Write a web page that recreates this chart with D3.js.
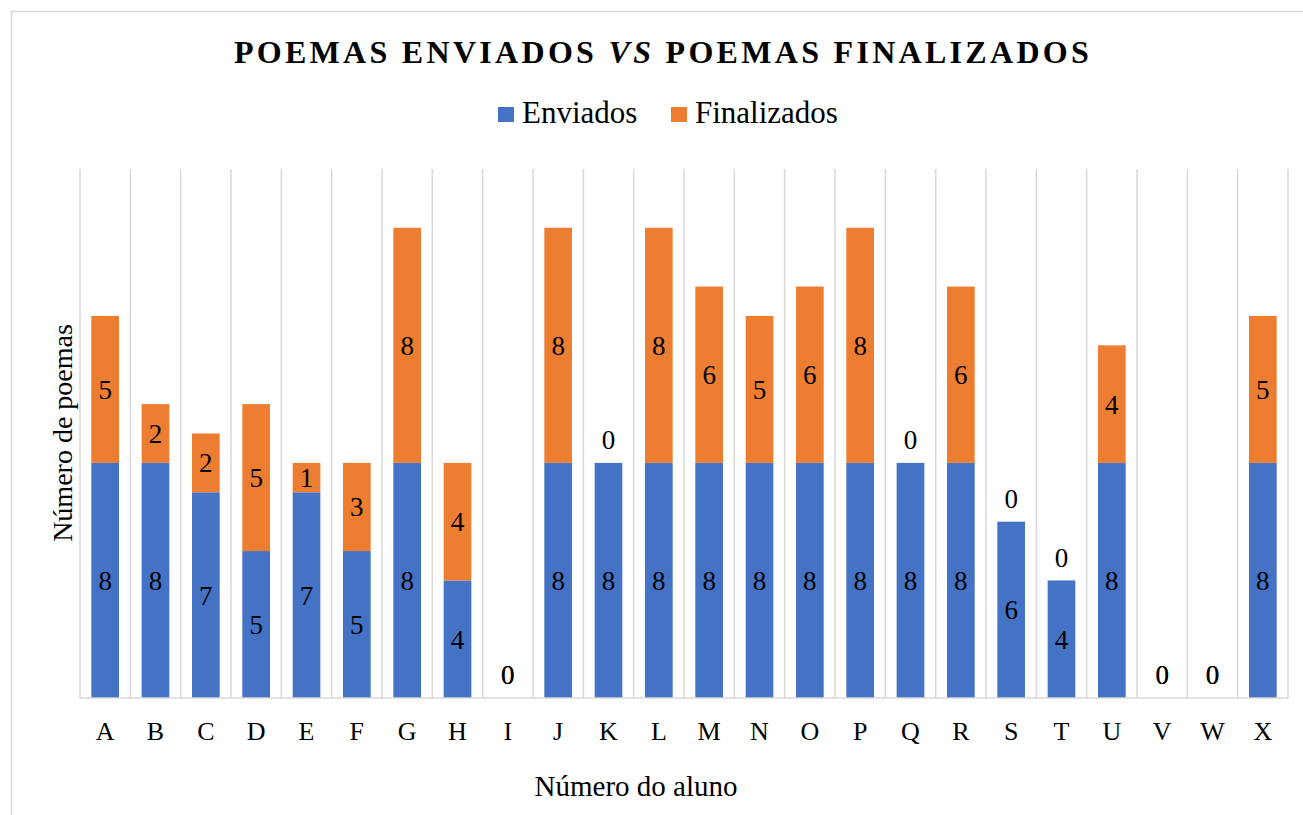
<!DOCTYPE html>
<html>
<head>
<meta charset="utf-8">
<script src="https://cdn.jsdelivr.net/npm/d3@7"></script>
<style>
  html, body { margin: 0; padding: 0; background: #fff; }
  svg { display: block; }
  svg text { font-family: "Liberation Serif", "Times New Roman", serif; }
</style>
</head>
<body>
<svg id="chart" width="1303" height="815"></svg>
<script>
// Alunos and their poem counts
const alunos = ["A","B","C","D","E","F","G","H","I","J","K","L","M","N","O","P","Q","R","S","T","U","V","W","X"];
const enviados =    [8,8,7,5,7,5,8,4,0,8,8,8,8,8,8,8,8,8,6,4,8,0,0,8];
const finalizados = [5,2,2,5,1,3,8,4,0,8,0,8,6,5,6,8,0,6,0,0,4,0,0,5];
const seriesNames = ["Enviados", "Finalizados"];
const seriesColors = ["#4472C4", "#ED7D31"];
const yMax = 18;

const FONT = "Liberation Serif, Times New Roman, serif";
const svg = d3.select("#chart");
const W = 1303, H = 815;
const plot = { left: 80, right: 1288, top: 169, bottom: 698 };

// outer chart frame
svg.append("rect")
  .attr("x", 11.5).attr("y", 11.5)
  .attr("width", W).attr("height", H)
  .attr("fill", "#fff").attr("stroke", "#d9d9d9").attr("stroke-width", 1.5);

const rows = alunos.map((a, i) => ({ aluno: a, Enviados: enviados[i], Finalizados: finalizados[i] }));
const stacked = d3.stack().keys(seriesNames)(rows);

const x = d3.scaleBand()
  .domain(alunos)
  .range([plot.left, plot.right])
  .paddingInner(0.45)
  .paddingOuter(0.225);

const y = d3.scaleLinear().domain([0, yMax]).range([plot.bottom, plot.top]);

// vertical category separators
const step = x.step();
const seps = d3.range(alunos.length + 1).map(i => plot.left + i * step);
svg.append("g").selectAll("line").data(seps).join("line")
  .attr("x1", d => d).attr("x2", d => d)
  .attr("y1", plot.top).attr("y2", plot.bottom)
  .attr("stroke", "#d9d9d9").attr("stroke-width", 1.5);

// stacked bars
const layers = svg.append("g").selectAll("g").data(stacked).join("g")
  .attr("fill", (d, i) => seriesColors[i]);
layers.selectAll("rect").data(d => d).join("rect")
  .attr("x", d => x(d.data.aluno))
  .attr("width", x.bandwidth())
  .attr("y", d => y(d[1]))
  .attr("height", d => y(d[0]) - y(d[1]));

// bottom axis
const xAxis = svg.append("g")
  .attr("transform", `translate(0,${plot.bottom})`)
  .call(d3.axisBottom(x).tickSize(0).tickPadding(24));
xAxis.attr("font-family", FONT).attr("font-size", 26);
xAxis.select(".domain").attr("stroke", "#d9d9d9").attr("stroke-width", 1.5)
  .attr("d", `M${plot.left},0H${plot.right}`);
xAxis.selectAll("text").attr("fill", "#000");

// value labels
const labels = svg.append("g")
  .attr("font-family", FONT).attr("font-size", 27)
  .attr("fill", "#000").attr("text-anchor", "middle");
stacked.forEach((layer) => {
  labels.append("g").selectAll("text").data(layer).join("text")
    .attr("x", d => x(d.data.aluno) + x.bandwidth() / 2)
    .attr("y", d => {
      const v = d[1] - d[0];
      return v === 0 ? y(d[1]) - 23 : (y(d[0]) + y(d[1])) / 2;
    })
    .attr("dy", "0.35em")
    .text(d => d[1] - d[0]);
});

// title
const title = svg.append("text")
  .attr("x", 663).attr("y", 63)
  .attr("text-anchor", "middle")
  .attr("font-family", FONT)
  .attr("font-size", 32).attr("font-weight", "bold")
  .attr("letter-spacing", 3.3)
  .attr("fill", "#000");
title.append("tspan").text("POEMAS ENVIADOS ");
title.append("tspan").attr("font-style", "italic").text("VS");
title.append("tspan").text(" POEMAS FINALIZADOS");

// legend
const legend = svg.append("g").attr("font-family", FONT).attr("font-size", 31);
const legendX = [498, 671];
seriesNames.forEach((name, i) => {
  const g = legend.append("g").attr("transform", `translate(${legendX[i]},0)`);
  g.append("rect").attr("x", 0).attr("y", 107).attr("width", 16).attr("height", 15)
    .attr("fill", seriesColors[i]);
  g.append("text").attr("x", 24).attr("y", 123).attr("fill", "#000").text(name);
});

// axis titles
svg.append("text")
  .attr("x", 636).attr("y", 796)
  .attr("text-anchor", "middle")
  .attr("font-family", FONT)
  .attr("font-size", 29).attr("fill", "#000")
  .text("Número do aluno");

svg.append("text")
  .attr("transform", "translate(72,433) rotate(-90)")
  .attr("text-anchor", "middle")
  .attr("font-family", FONT)
  .attr("font-size", 28).attr("fill", "#000")
  .text("Número de poemas");
</script>
</body>
</html>
